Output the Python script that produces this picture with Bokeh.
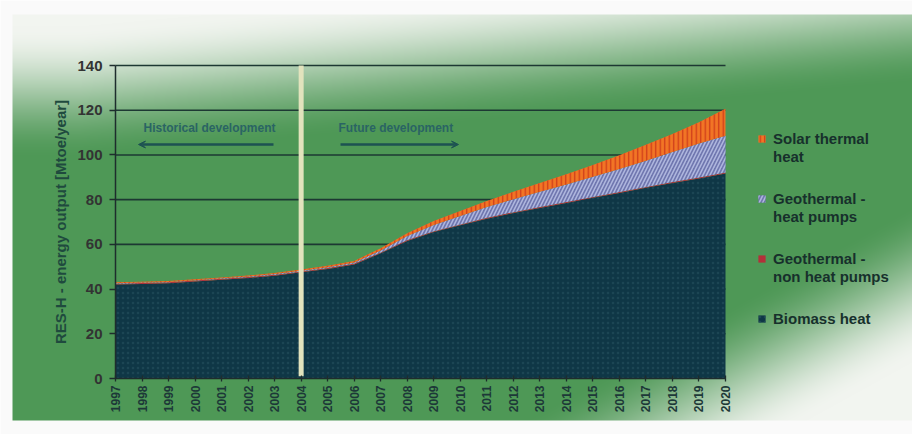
import numpy as np
from bokeh.plotting import figure
from bokeh.models import (ColumnDataSource, Range1d, FixedTicker, Legend, LegendItem,
                          Label, Arrow, VeeHead)
from bokeh.embed import file_html
from bokeh.resources import INLINE

# ---------------- data ----------------
years = [1997, 1998, 1999, 2000, 2001, 2002, 2003, 2004, 2005, 2006, 2007, 2008,
         2009, 2010, 2011, 2012, 2013, 2014, 2015, 2016, 2017, 2018, 2019, 2020]
biomass = [42.0, 42.3, 42.6, 43.4, 44.2, 45.0, 46.0, 47.5, 49.0, 51.0, 56.0, 61.5,
           65.5, 68.5, 71.5, 74.0, 76.3, 78.5, 80.8, 83.0, 85.3, 87.5, 89.5, 91.7]
geo_non_hp = [0.4, 0.4, 0.4, 0.4, 0.4, 0.4, 0.4, 0.4, 0.4, 0.4, 0.4, 0.4,
              0.4, 0.4, 0.4, 0.4, 0.4, 0.4, 0.4, 0.4, 0.4, 0.4, 0.4, 0.4]
geo_hp = [0.2, 0.2, 0.2, 0.2, 0.2, 0.2, 0.3, 0.3, 0.4, 0.5, 0.9, 1.8,
          2.8, 3.8, 4.8, 5.8, 6.8, 7.9, 9.0, 10.3, 11.7, 13.4, 15.2, 16.5]
solar = [0.4, 0.4, 0.4, 0.4, 0.4, 0.5, 0.5, 0.5, 0.6, 0.7, 1.0, 1.3,
         1.7, 2.2, 2.7, 3.3, 3.9, 4.6, 5.3, 6.2, 7.1, 8.1, 9.5, 12.0]
y_ticks = [0, 20, 40, 60, 80, 100, 120, 140]
series_names = ["biomass", "geo_non_hp", "geo_hp", "solar"]
# legend labels, first and second line (top to bottom order: solar, geo hp, geo non hp, biomass)
legend_line1 = ["Solar thermal", "Geothermal -", "Geothermal -", "Biomass heat"]
legend_line2 = ["heat", "heat pumps", "non heat pumps"]
divider_year = 2004
y_label = "RES-H - energy output [Mtoe/year]"

# ---------------- layout ----------------
W, H = 912, 434
X0_PX, X1_PX = 115, 725      # screen x of first / last year
Y0_PX, Y1_PX = 378, 65       # screen y of 0 / top tick
ppy = (X1_PX - X0_PX) / (years[-1] - years[0])
ppu = (Y0_PX - Y1_PX) / (y_ticks[-1] - y_ticks[0])
xs = years[0] - X0_PX / ppy
ys = y_ticks[0] - (H - Y0_PX) / ppu


def px_x(px):
    return xs + px / ppy


def px_y(py):
    return ys + (H - py) / ppu


p = figure(width=W, height=H, x_range=Range1d(xs, xs + W / ppy),
           y_range=Range1d(ys, ys + H / ppu), output_backend="svg",
           toolbar_location=None, min_border=0, outline_line_color=None)
p.background_fill_color = "white"
p.border_fill_color = "white"

# ---------------- gradient background ----------------
yy, xx = np.mgrid[0:H, 0:W].astype(float)
green = np.array([78.0, 152.0, 86.0])
white = np.array([242.0, 245.0, 240.0])
a = np.clip(1.08 - (yy - 15) / 135 - np.maximum(xx - 80, 0) / 1500, 0, 1)
b = np.clip((xx - 590) / 290 + (yy - 290) / 160 - 0.55, 0, 1)
w = np.maximum(a, b)
w = w * w * (3 - 2 * w)
rgb = green[None, None, :] * (1 - w[..., None]) + white[None, None, :] * w[..., None]
outside = (yy < 14) | (yy > 419) | (xx < 12)
rgb[outside] = [250, 250, 250]
img = np.empty((H, W), dtype=np.uint32)
view = img.view(dtype=np.uint8).reshape((H, W, 4))
view[:, :, :3] = rgb[::-1].astype(np.uint8)
view[:, :, 3] = 255
p.image_rgba(image=[img], x=xs, y=ys, dw=W / ppy, dh=H / ppu)

# ---------------- grid lines ----------------
grid_vals = y_ticks[1:]
p.segment(x0=years[0], x1=years[-1], y0=grid_vals, y1=grid_vals,
          line_color="#1d3833", line_width=1.6)

# ---------------- stacked areas ----------------
src = ColumnDataSource(dict(year=years, biomass=biomass, geo_non_hp=geo_non_hp,
                            geo_hp=geo_hp, solar=solar))
rs = p.varea_stack(stackers=series_names, x="year", source=src,
                   fill_color=["#0f3746", "#b3303a", "#6f76ae", "#f27525"],
                   hatch_pattern=[".", " ", "/", "|"],
                   hatch_color=["#24505e", "#b3303a", "#aeb6de", "#cf3c1a"],
                   hatch_alpha=[0.6, 1.0, 1.0, 1.0],
                   hatch_scale=[5, 12, 7, 4.5],
                   hatch_weight=[1, 1, 1.6, 1.3])

# divider
p.segment(x0=[divider_year], x1=[divider_year], y0=[y_ticks[0] + 1], y1=[y_ticks[-1]],
          line_color="#e2e3bd", line_width=5)

# ---------------- axes ----------------
p.xgrid.visible = False
p.ygrid.visible = False
p.xaxis.fixed_location = y_ticks[0]
p.yaxis.fixed_location = years[0]
p.xaxis.bounds = (years[0], years[-1])
p.yaxis.bounds = (y_ticks[0], y_ticks[-1])
p.xaxis.ticker = FixedTicker(ticks=years)
p.yaxis.ticker = FixedTicker(ticks=y_ticks)
p.xaxis.major_label_orientation = np.pi / 2
for ax in (p.xaxis[0], p.yaxis[0]):
    ax.axis_line_color = "#1e2d2d"
    ax.axis_line_width = 1.5
    ax.major_tick_line_color = "#1e2d2d"
    ax.major_tick_line_width = 1.3
    ax.minor_tick_line_color = None
p.xaxis.major_tick_in = 3
p.xaxis.major_tick_out = 3
p.yaxis.major_tick_in = 0
p.yaxis.major_tick_out = 6
p.xaxis.major_label_text_font = "Liberation Sans"
p.xaxis.major_label_text_font_size = "12px"
p.xaxis.major_label_text_font_style = "bold"
p.xaxis.major_label_text_color = "#1d3838"
p.xaxis.major_label_standoff = 4
p.yaxis.major_label_text_font = "Liberation Sans"
p.yaxis.major_label_text_font_size = "15px"
p.yaxis.major_label_text_font_style = "bold"
p.yaxis.major_label_text_color = "#333333"
p.yaxis.major_label_standoff = 7
p.yaxis.axis_label = y_label
p.yaxis.axis_label_text_font = "Liberation Sans"
p.yaxis.axis_label_text_font_size = "15px"
p.yaxis.axis_label_text_font_style = "bold"
p.yaxis.axis_label_text_color = "#1f4a3e"
p.yaxis.axis_label_standoff = 5

# ---------------- annotations ----------------
text_col = "#2a6464"
arrow_col = "#1d5252"
p.add_layout(Label(x=px_x(143), y=px_y(127), text="Historical development",
                   text_font="Liberation Sans", text_font_size="12px",
                   text_font_style="bold", text_color=text_col,
                   text_baseline="middle"))
p.add_layout(Label(x=px_x(338), y=px_y(127), text="Future development",
                   text_font="Liberation Sans", text_font_size="12px",
                   text_font_style="bold", text_color=text_col,
                   text_baseline="middle"))
p.add_layout(Arrow(x_start=px_x(273), y_start=px_y(144), x_end=px_x(138), y_end=px_y(144),
                   line_color=arrow_col, line_width=2.5,
                   end=VeeHead(size=7, fill_color=arrow_col, line_color=arrow_col)))
p.add_layout(Arrow(x_start=px_x(340), y_start=px_y(144), x_end=px_x(458), y_end=px_y(144),
                   line_color=arrow_col, line_width=2.5,
                   end=VeeHead(size=7, fill_color=arrow_col, line_color=arrow_col)))

# ---------------- legend (first lines with swatches, second lines below) ----------------
order = [3, 2, 1, 0]
legend_style = dict(padding=0, margin=0, label_height=17, glyph_height=9,
                    label_text_font="Liberation Sans", label_text_font_size="15px",
                    label_text_font_style="bold", label_text_color="#17302c",
                    background_fill_alpha=0, border_line_alpha=0)
items_a = [LegendItem(label=legend_line1[k], renderers=[rs[i]]) for k, i in enumerate(order)]
legend_a = Legend(items=items_a, location=(757, 434 - 327), spacing=43,
                  glyph_width=9, label_standoff=7, **legend_style)
items_b = [LegendItem(label=legend_line2[k], renderers=[rs[i]]) for k, i in enumerate(order[:3])]
legend_b = Legend(items=items_b, location=(773, 434 - 285), spacing=43,
                  glyph_width=0, label_standoff=0, **legend_style)
p.add_layout(legend_a)
p.add_layout(legend_b)

open("out.html", "w").write(file_html(p, INLINE))
